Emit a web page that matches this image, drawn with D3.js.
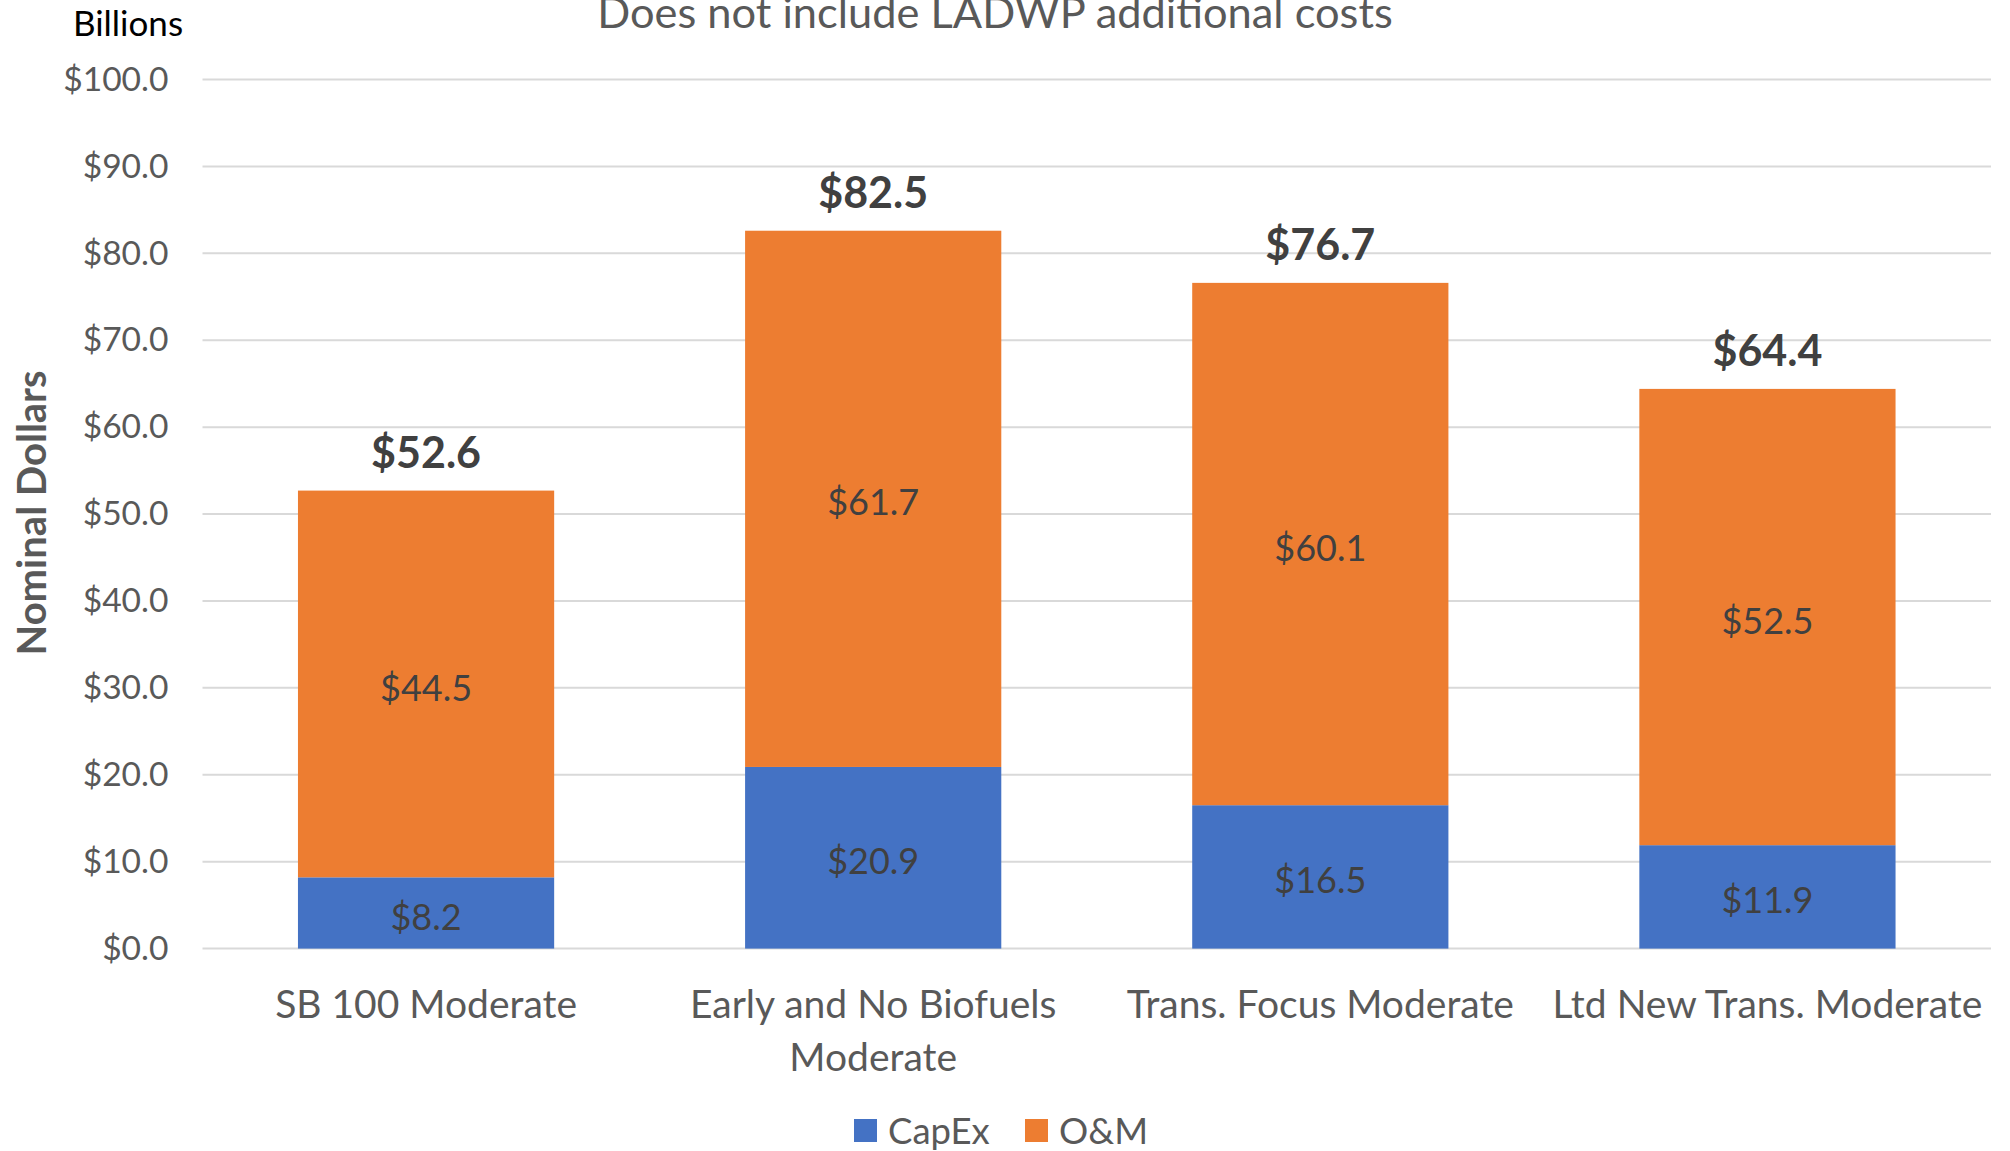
<html>
<head>
<script src="https://d3js.org/d3.v7.min.js"></script>
<style>
  body { margin: 0; background: #fff; }
  text { font-family: Lato, "Open Sans", sans-serif; }
</style>
</head>
<body>
<script>
// data (billions, nominal dollars)
var categories = ["SB 100 Moderate", "Early and No Biofuels Moderate", "Trans. Focus Moderate", "Ltd New Trans. Moderate"];
var catLines = [["SB 100 Moderate"], ["Early and No Biofuels", "Moderate"], ["Trans. Focus Moderate"], ["Ltd New Trans. Moderate"]];
var capex = [8.2, 20.9, 16.5, 11.9];
var om = [44.5, 61.7, 60.1, 52.5];
var totals = [52.6, 82.5, 76.7, 64.4];
var yTicks = [0, 10, 20, 30, 40, 50, 60, 70, 80, 90, 100];
var seriesNames = ["CapEx", "O&M"];
var colors = ["#4472C4", "#ED7D31"];

var W = 2010, H = 1151;
var pLeft = 202.5, pRight = 1991, pTop = 79.5, pBottom = 948.6;

var svg = d3.select("body").append("svg")
  .attr("width", W)
  .attr("height", H);

var x = d3.scaleBand()
  .domain(categories)
  .range([pLeft, pRight])
  .paddingInner(0.427)
  .paddingOuter(0.2135);

var y = d3.scaleLinear()
  .domain([0, 100])
  .range([pBottom, pTop]);

// gridlines
svg.append("g")
  .selectAll("line")
  .data(yTicks)
  .enter()
  .append("line")
  .attr("x1", pLeft)
  .attr("x2", pRight)
  .attr("y1", d => y(d))
  .attr("y2", d => y(d))
  .attr("stroke", "#D9D9D9")
  .attr("stroke-width", 2);

// y axis labels
var yAxis = svg.append("g")
  .attr("transform", "translate(" + pLeft + ",0)")
  .call(d3.axisLeft(y).tickValues(yTicks).tickSize(0).tickPadding(34).tickFormat(d => "$" + d3.format(".1f")(d)));
yAxis.select(".domain").remove();
yAxis.selectAll("text")
  .attr("font-family", "Lato")
  .attr("font-size", 33.6)
  .attr("fill", "#595959");

// stacked data
var rows = categories.map((c, i) => ({cat: c, capex: capex[i], om: om[i]}));
var stack = d3.stack().keys(["capex", "om"])(rows);

var layers = svg.selectAll(".layer")
  .data(stack)
  .enter()
  .append("g")
  .attr("fill", (d, i) => colors[i]);

layers.selectAll("rect")
  .data(d => d)
  .enter()
  .append("rect")
  .attr("x", d => x(d.data.cat))
  .attr("width", x.bandwidth())
  .attr("y", d => y(d[1]))
  .attr("height", d => y(d[0]) - y(d[1]));

// segment labels
layers.selectAll("text")
  .data(d => d)
  .enter()
  .append("text")
  .attr("x", d => x(d.data.cat) + x.bandwidth() / 2)
  .attr("y", d => (y(d[0]) + y(d[1])) / 2)
  .attr("dy", "0.46em")
  .attr("text-anchor", "middle")
  .attr("font-size", 36)
  .attr("fill", "#404040")
  .text(d => "$" + d3.format(".1f")(d[1] - d[0]));

// totals
svg.append("g")
  .selectAll("text")
  .data(rows)
  .enter()
  .append("text")
  .attr("x", d => x(d.cat) + x.bandwidth() / 2)
  .attr("y", d => y(d.capex + d.om) - 23)
  .attr("text-anchor", "middle")
  .attr("font-size", 43)
  .attr("font-weight", "bold")
  .attr("fill", "#404040")
  .text((d, i) => "$" + d3.format(".1f")(totals[i]));

// category labels
var xl = svg.append("g")
  .selectAll("text")
  .data(categories)
  .enter()
  .append("text")
  .attr("x", d => x(d) + x.bandwidth() / 2)
  .attr("y", 1004)
  .attr("text-anchor", "middle")
  .attr("font-size", 39)
  .attr("fill", "#595959");
xl.selectAll("tspan")
  .data((d, i) => catLines[i])
  .enter()
  .append("tspan")
  .attr("x", function() { return this.parentNode.getAttribute("x"); })
  .attr("dy", (d, i) => i == 0 ? "0.36em" : 52.6)
  .text(d => d);

// axis title
svg.append("text")
  .attr("transform", "translate(32,513) rotate(-90)")
  .attr("text-anchor", "middle")
  .attr("dy", "0.36em")
  .attr("font-size", 40)
  .attr("font-weight", "bold")
  .attr("fill", "#595959")
  .text("Nominal Dollars");

// units
svg.append("text")
  .attr("x", 128)
  .attr("y", 36)
  .attr("text-anchor", "middle")
  .attr("font-size", 35)
  .attr("fill", "#000")
  .text("Billions");

// subtitle (cut at top)
svg.append("text")
  .attr("x", 995)
  .attr("y", 28)
  .attr("text-anchor", "middle")
  .attr("font-size", 43.4)
  .attr("fill", "#595959")
  .text("Does not include LADWP additional costs");

// legend
var legend = svg.append("g")
  .selectAll("g")
  .data(seriesNames)
  .enter()
  .append("g")
  .attr("transform", (d, i) => "translate(" + [854, 1025][i] + ",1131)");
legend.append("rect")
  .attr("x", 0)
  .attr("y", -12)
  .attr("width", 23)
  .attr("height", 23)
  .attr("fill", (d, i) => colors[i]);
legend.append("text")
  .attr("x", 34)
  .attr("dy", "0.36em")
  .attr("font-size", 36.5)
  .attr("fill", "#595959")
  .text(d => d);
</script>
</body>
</html>
